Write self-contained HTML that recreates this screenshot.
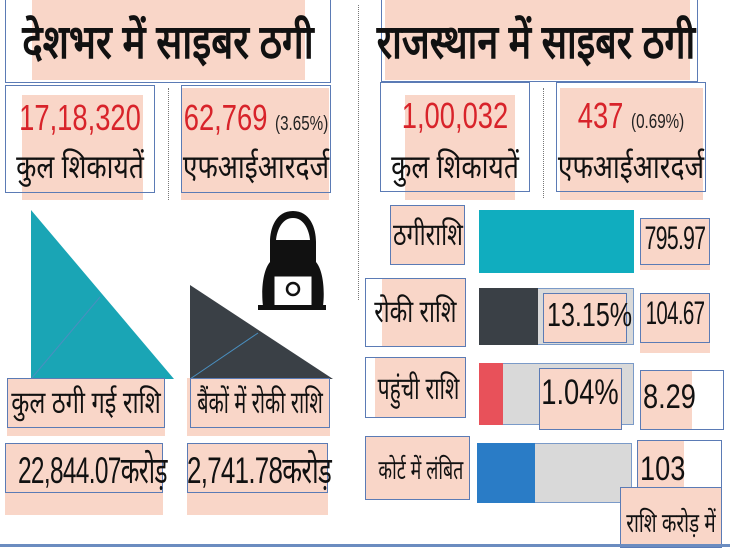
<!DOCTYPE html>
<html><head><meta charset="utf-8"><style>
body{margin:0;width:730px;height:548px;overflow:hidden;background:#fff;position:relative;font-family:"Liberation Sans",sans-serif;}
div{position:absolute;box-sizing:border-box;}
.pk{background:#f9d6c8;}
.bx{border:1.5px solid #5b7bb5;}
.t{white-space:nowrap;text-align:center;color:#111;transform-origin:center;}
.dot{border-left:1.5px dotted #777;width:0;}
</style></head><body>
<!-- titles -->
<div class="pk" style="left:32px;top:0;width:273px;height:80px"></div>
<div class="bx" style="left:5px;top:-2px;width:326px;height:85px"></div>
<div class="t" style="left:-20px;top:8px;width:376px;font-size:47px;font-weight:bold;transform:scaleX(0.82)">देशभर में साइबर ठगी</div>
<div class="pk" style="left:385px;top:0;width:305px;height:80px"></div>
<div class="bx" style="left:381px;top:-2px;width:317px;height:84px"></div>
<div class="t" style="left:336px;top:8px;width:400px;font-size:47px;font-weight:bold;transform:scaleX(0.8)">राजस्थान में साइबर ठगी</div>
<div class="dot" style="left:358px;top:5px;height:295px"></div>
<div class="dot" style="left:168px;top:88px;height:112px"></div>
<div class="dot" style="left:543px;top:88px;height:110px"></div>
<!-- row2 left -->
<div class="pk" style="left:22px;top:95px;width:121px;height:105px"></div>
<div class="bx" style="left:5px;top:85px;width:150px;height:108px"></div>
<div class="t" style="left:-20px;top:97px;width:200px;font-size:36px;color:#d8232a;transform:scaleX(0.76)">17,18,320</div>
<div class="t" style="left:-20px;top:143px;width:200px;font-size:33px;transform:scaleX(0.8)">कुल शिकायतें</div>
<div class="pk" style="left:181px;top:88px;width:148px;height:112px"></div>
<div class="bx" style="left:181px;top:85px;width:150px;height:108px"></div>
<div class="t" style="left:156px;top:97px;width:200px;font-size:36px;color:#d8232a;transform:scaleX(0.76)">62,769 <span style="font-size:20px;color:#222">(3.65%)</span></div>
<div class="t" style="left:156px;top:143px;width:200px;font-size:33px;transform:scaleX(0.8)">एफआईआरदर्ज</div>
<!-- row2 right -->
<div class="pk" style="left:405px;top:95px;width:110px;height:105px"></div>
<div class="bx" style="left:380px;top:82px;width:150px;height:110px"></div>
<div class="t" style="left:355px;top:95px;width:200px;font-size:36px;color:#d8232a;transform:scaleX(0.76)">1,00,032</div>
<div class="t" style="left:355px;top:143px;width:200px;font-size:33px;transform:scaleX(0.8)">कुल शिकायतें</div>
<div class="pk" style="left:560px;top:88px;width:143px;height:112px"></div>
<div class="bx" style="left:556px;top:82px;width:150px;height:110px"></div>
<div class="t" style="left:531px;top:95px;width:200px;font-size:36px;color:#d8232a;transform:scaleX(0.76)">437 <span style="font-size:20px;color:#222">(0.69%)</span></div>
<div class="t" style="left:531px;top:143px;width:200px;font-size:33px;transform:scaleX(0.8)">एफआईआरदर्ज</div>
<!-- triangles -->
<svg style="position:absolute;left:0;top:0" width="730" height="548">
<polygon points="31,210 31,379 174,379" fill="#1aa5b5"/>
<line x1="31" y1="379" x2="100" y2="297" stroke="#4a8fc0" stroke-width="1"/>
<polygon points="190,285 190,379 333,379" fill="#3a4046"/>
<line x1="190" y1="379" x2="258" y2="333" stroke="#4a8fc0" stroke-width="1"/>
<!-- hacker -->
<path d="M293 211 C276 211 270 228 270 242 L270 262 C263 270 261 290 263 306 L323 306 C325 290 323 270 316 262 L316 242 C316 228 310 211 293 211Z" fill="#111"/>
<path d="M293 218 C282 218 277 230 276 240 L310 240 C309 230 304 218 293 218Z" fill="#fff"/>
<rect x="283" y="242" width="20" height="14" fill="#111"/>
<rect x="273" y="275" width="40" height="32" fill="#fff" stroke="#111" stroke-width="3"/>
<circle cx="293" cy="289" r="6" fill="none" stroke="#111" stroke-width="2.5"/>
<rect x="258" y="305" width="68" height="5" fill="#111"/>
</svg>
<!-- left labels -->
<div class="pk" style="left:7px;top:378px;width:158px;height:58px"></div>
<div class="bx" style="left:7px;top:378px;width:158px;height:50px"></div>
<div class="t" style="left:-14px;top:381px;width:200px;font-size:31px;transform:scaleX(0.76)">कुल ठगी गई राशि</div>
<div class="pk" style="left:187px;top:378px;width:143px;height:58px"></div>
<div class="bx" style="left:190px;top:378px;width:140px;height:50px"></div>
<div class="t" style="left:160px;top:381px;width:200px;font-size:31px;transform:scaleX(0.64)">बैंकों में रोकी राशि</div>
<div class="pk" style="left:5px;top:443px;width:158px;height:72px"></div>
<div class="bx" style="left:5px;top:443px;width:158px;height:50px"></div>
<div class="t" style="left:-16px;top:443px;width:200px;font-size:37px;letter-spacing:-1px;transform:scaleX(0.66)">22,844.07करोड़</div>
<div class="pk" style="left:187px;top:443px;width:141px;height:72px"></div>
<div class="bx" style="left:187px;top:443px;width:141px;height:50px"></div>
<div class="t" style="left:157px;top:443px;width:200px;font-size:37px;letter-spacing:-1px;transform:scaleX(0.7)">2,741.78करोड़</div>
<!-- right bars -->
<div class="pk" style="left:390px;top:205px;width:75px;height:60px"></div>
<div class="bx" style="left:390px;top:205px;width:75px;height:60px"></div>
<div class="t" style="left:378px;top:213px;width:100px;font-size:31px;transform:scaleX(0.75)">ठगीराशि</div>
<div style="left:479px;top:210px;width:155px;height:63px;background:#10adbf"></div>
<div class="pk" style="left:640px;top:218px;width:70px;height:52px"></div>
<div class="bx" style="left:640px;top:218px;width:70px;height:47px"></div>
<div class="t" style="left:625px;top:220px;width:100px;font-size:32px;letter-spacing:-1px;transform:scaleX(0.66)">795.97</div>

<div class="pk" style="left:382px;top:278px;width:84px;height:69px"></div>
<div class="bx" style="left:365px;top:278px;width:101px;height:69px"></div>
<div class="t" style="left:360px;top:290px;width:110px;font-size:31px;transform:scaleX(0.74)">रोकी राशि</div>
<div style="left:479px;top:288px;width:155px;height:57px;background:#d9d9d9;border:1px solid #7a9ac8"></div>
<div style="left:479px;top:288px;width:59px;height:57px;background:#3a4046"></div>
<div class="pk bx" style="left:543px;top:293px;width:84px;height:50px"></div>
<div class="t" style="left:535px;top:296px;width:100px;font-size:33px;transform:scaleX(0.76)">13.15%</div>
<div class="pk" style="left:640px;top:293px;width:70px;height:60px"></div>
<div class="bx" style="left:640px;top:293px;width:70px;height:50px"></div>
<div class="t" style="left:625px;top:295px;width:100px;font-size:32px;letter-spacing:-1px;transform:scaleX(0.64)">104.67</div>

<div class="pk" style="left:375px;top:357px;width:91px;height:61px"></div>
<div class="bx" style="left:365px;top:357px;width:101px;height:61px"></div>
<div class="t" style="left:360px;top:367px;width:110px;font-size:31px;transform:scaleX(0.68)">पहुंची राशि</div>
<div style="left:479px;top:363px;width:155px;height:62px;background:#d9d9d9;border:1px solid #7a9ac8"></div>
<div style="left:479px;top:363px;width:24px;height:62px;background:#e8515a"></div>
<div class="pk bx" style="left:539px;top:368px;width:83px;height:62px"></div>
<div class="t" style="left:530px;top:373px;width:100px;font-size:35px;transform:scaleX(0.78)">1.04%</div>
<div class="pk" style="left:640px;top:370px;width:52px;height:60px"></div>
<div class="bx" style="left:640px;top:370px;width:84px;height:60px"></div>
<div class="t" style="left:643px;top:378px;width:60px;font-size:34px;text-align:left;transform-origin:left;transform:scaleX(0.8)">8.29</div>

<div class="pk bx" style="left:365px;top:436px;width:105px;height:64px"></div>
<div class="t" style="left:358px;top:450px;width:120px;font-size:27px;transform:scaleX(0.66)">कोर्ट में लंबित</div>
<div style="left:477px;top:443px;width:155px;height:60px;background:#d9d9d9;border:1px solid #7a9ac8"></div>
<div style="left:477px;top:443px;width:58px;height:60px;background:#2a7cc6"></div>
<div class="pk" style="left:637px;top:440px;width:47px;height:60px"></div>
<div class="bx" style="left:637px;top:440px;width:85px;height:63px"></div>
<div class="t" style="left:640px;top:450px;width:60px;font-size:34px;text-align:left;transform-origin:left;transform:scaleX(0.8)">103</div>
<div class="pk bx" style="left:620px;top:487px;width:102px;height:61px;background:#f9d6c8"></div>
<div class="t" style="left:606px;top:503px;width:130px;font-size:27px;transform:scaleX(0.7)">राशि करोड़ में</div>
<div style="left:0;top:544px;width:730px;height:3px;background:#6b8cc0"></div>
</body></html>
